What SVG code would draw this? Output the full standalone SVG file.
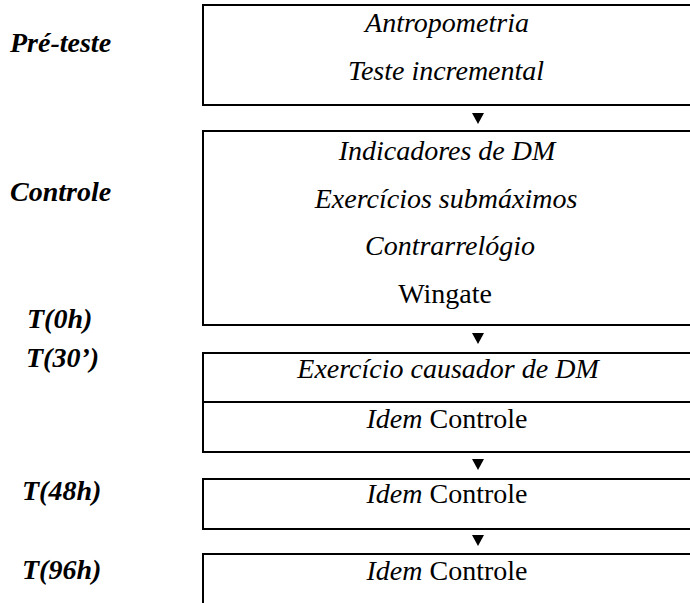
<svg xmlns="http://www.w3.org/2000/svg" width="690" height="603" viewBox="0 0 690 603" font-family="Liberation Serif, Times New Roman, serif">
<style>
.box{fill:#fff;stroke:#000;stroke-width:2}
.t{font-size:28px;fill:#000;text-anchor:middle}
.i{font-style:italic}
.lab{font-size:28px;font-weight:bold;font-style:italic;fill:#000}
.arr{fill:#000}
</style>
<rect width="690" height="603" fill="#fff"/>
<g id="labels" font-family="Liberation Serif, Times New Roman, serif">
<text class="lab" x="10" y="52" font-family="Liberation Serif">Pré-teste</text>
<text class="lab" x="10" y="201" font-family="Liberation Serif">Controle</text>
<text class="lab" x="27" y="328" font-family="Liberation Serif">T(0h)</text>
<text class="lab" x="26" y="367" font-family="Liberation Serif">T(30’)</text>
<text class="lab" x="22" y="500" font-family="Liberation Serif">T(48h)</text>
<text class="lab" x="22" y="579" font-family="Liberation Serif">T(96h)</text>
</g>
<g id="pre-teste">
<rect class="box" x="203" y="5" width="500" height="100"/>
<text class="t i" x="447" y="32" font-family="Liberation Serif">Antropometria</text>
<text class="t i" x="446" y="80" font-family="Liberation Serif">Teste incremental</text>
</g>
<g id="controle">
<rect class="box" x="203" y="131" width="500" height="194"/>
<text class="t i" x="447" y="160" font-family="Liberation Serif">Indicadores de DM</text>
<text class="t i" x="446" y="208" font-family="Liberation Serif">Exercícios submáximos</text>
<text class="t i" x="450" y="255" font-family="Liberation Serif">Contrarrelógio</text>
<text class="t" x="445" y="303" font-family="Liberation Serif">Wingate</text>
</g>
<g id="t0h">
<rect class="box" x="203" y="353" width="500" height="49"/>
<text class="t i" x="448" y="378" font-family="Liberation Serif">Exercício causador de DM</text>
</g>
<g id="t30">
<rect class="box" x="203" y="402" width="500" height="50"/>
<text class="t" x="447" y="428" font-family="Liberation Serif"><tspan class="i">Idem</tspan> Controle</text>
</g>
<g id="t48h">
<rect class="box" x="203" y="479" width="500" height="50"/>
<text class="t" x="447" y="503" font-family="Liberation Serif"><tspan class="i">Idem</tspan> Controle</text>
</g>
<g id="t96h">
<rect class="box" x="203" y="554" width="500" height="80"/>
<text class="t" x="447" y="580" font-family="Liberation Serif"><tspan class="i">Idem</tspan> Controle</text>
</g>
<g id="connectors">
<path class="arr" d="M472,113 L484,113 L478,124 Z"/>
<path class="arr" d="M472,333 L484,333 L478,344 Z"/>
<path class="arr" d="M472,459 L484,459 L478,470 Z"/>
<path class="arr" d="M472,535 L484,535 L478,546 Z"/>
</g>
</svg>
